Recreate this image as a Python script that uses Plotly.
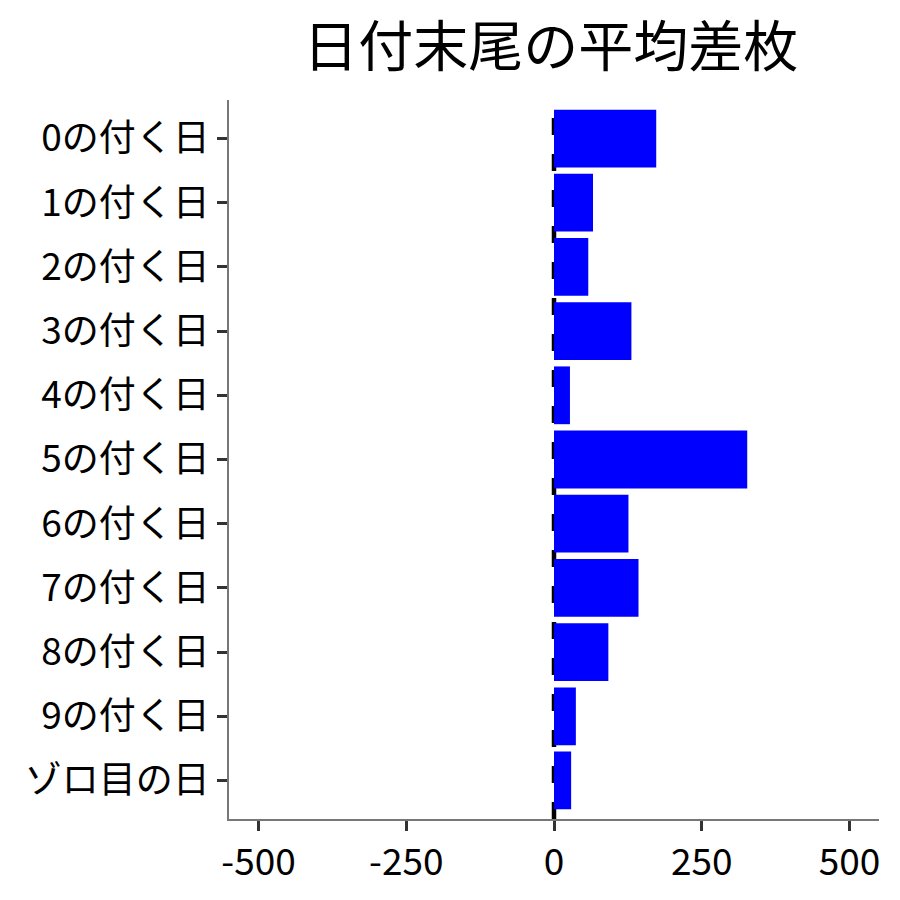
import plotly.graph_objects as go

# categories and values
labels = ["0の付く日", "1の付く日", "2の付く日", "3の付く日", "4の付く日",
          "5の付く日", "6の付く日", "7の付く日", "8の付く日", "9の付く日", "ゾロ目の日"]
avg_diff = [173, 66, 58, 131, 27, 327, 126, 143, 92, 37, 29]
x_ticks = [-500, -250, 0, 250, 500]

font_name = "Noto Sans CJK JP"

fig = go.Figure()
fig.add_trace(go.Bar(
    x=avg_diff,
    y=labels,
    orientation="h",
    marker=dict(color="#0000ff", line=dict(width=0)),
    showlegend=False,
))

# dashed zero line, behind the bars
fig.add_vline(x=0, line=dict(color="black", width=4.5, dash="17px,19px"), layer="below")

fig.update_layout(
    width=900,
    height=900,
    plot_bgcolor="white",
    paper_bgcolor="white",
    margin=dict(l=221, r=29, t=92, b=89),
    bargap=0.1,
    font=dict(family=font_name, color="black"),
    title=dict(text="日付末尾の平均差枚", x=0.603, xanchor="center",
               y=0.957, yanchor="middle", font=dict(size=55, family=font_name)),
    xaxis=dict(
        range=[-550, 550],
        tickvals=x_ticks,
        ticktext=[str(v) for v in x_ticks],
        automargin=False,
        showgrid=False,
        zeroline=False,
        showline=True,
        linecolor="#777777",
        linewidth=1.5,
        ticks="outside",
        ticklen=10,
        tickwidth=3,
        tickcolor="#333333",
        tickfont=dict(size=37, color="black"),
    ),
    yaxis=dict(
        categoryorder="array",
        categoryarray=labels,
        range=[10.6, -0.6],
        automargin=False,
        showgrid=False,
        zeroline=False,
        showline=True,
        linecolor="#777777",
        linewidth=1.5,
        ticks="outside",
        ticklen=10,
        tickwidth=3,
        tickcolor="#333333",
        tickfont=dict(size=37, color="black"),
    ),
)

fig.write_html("out.html")
